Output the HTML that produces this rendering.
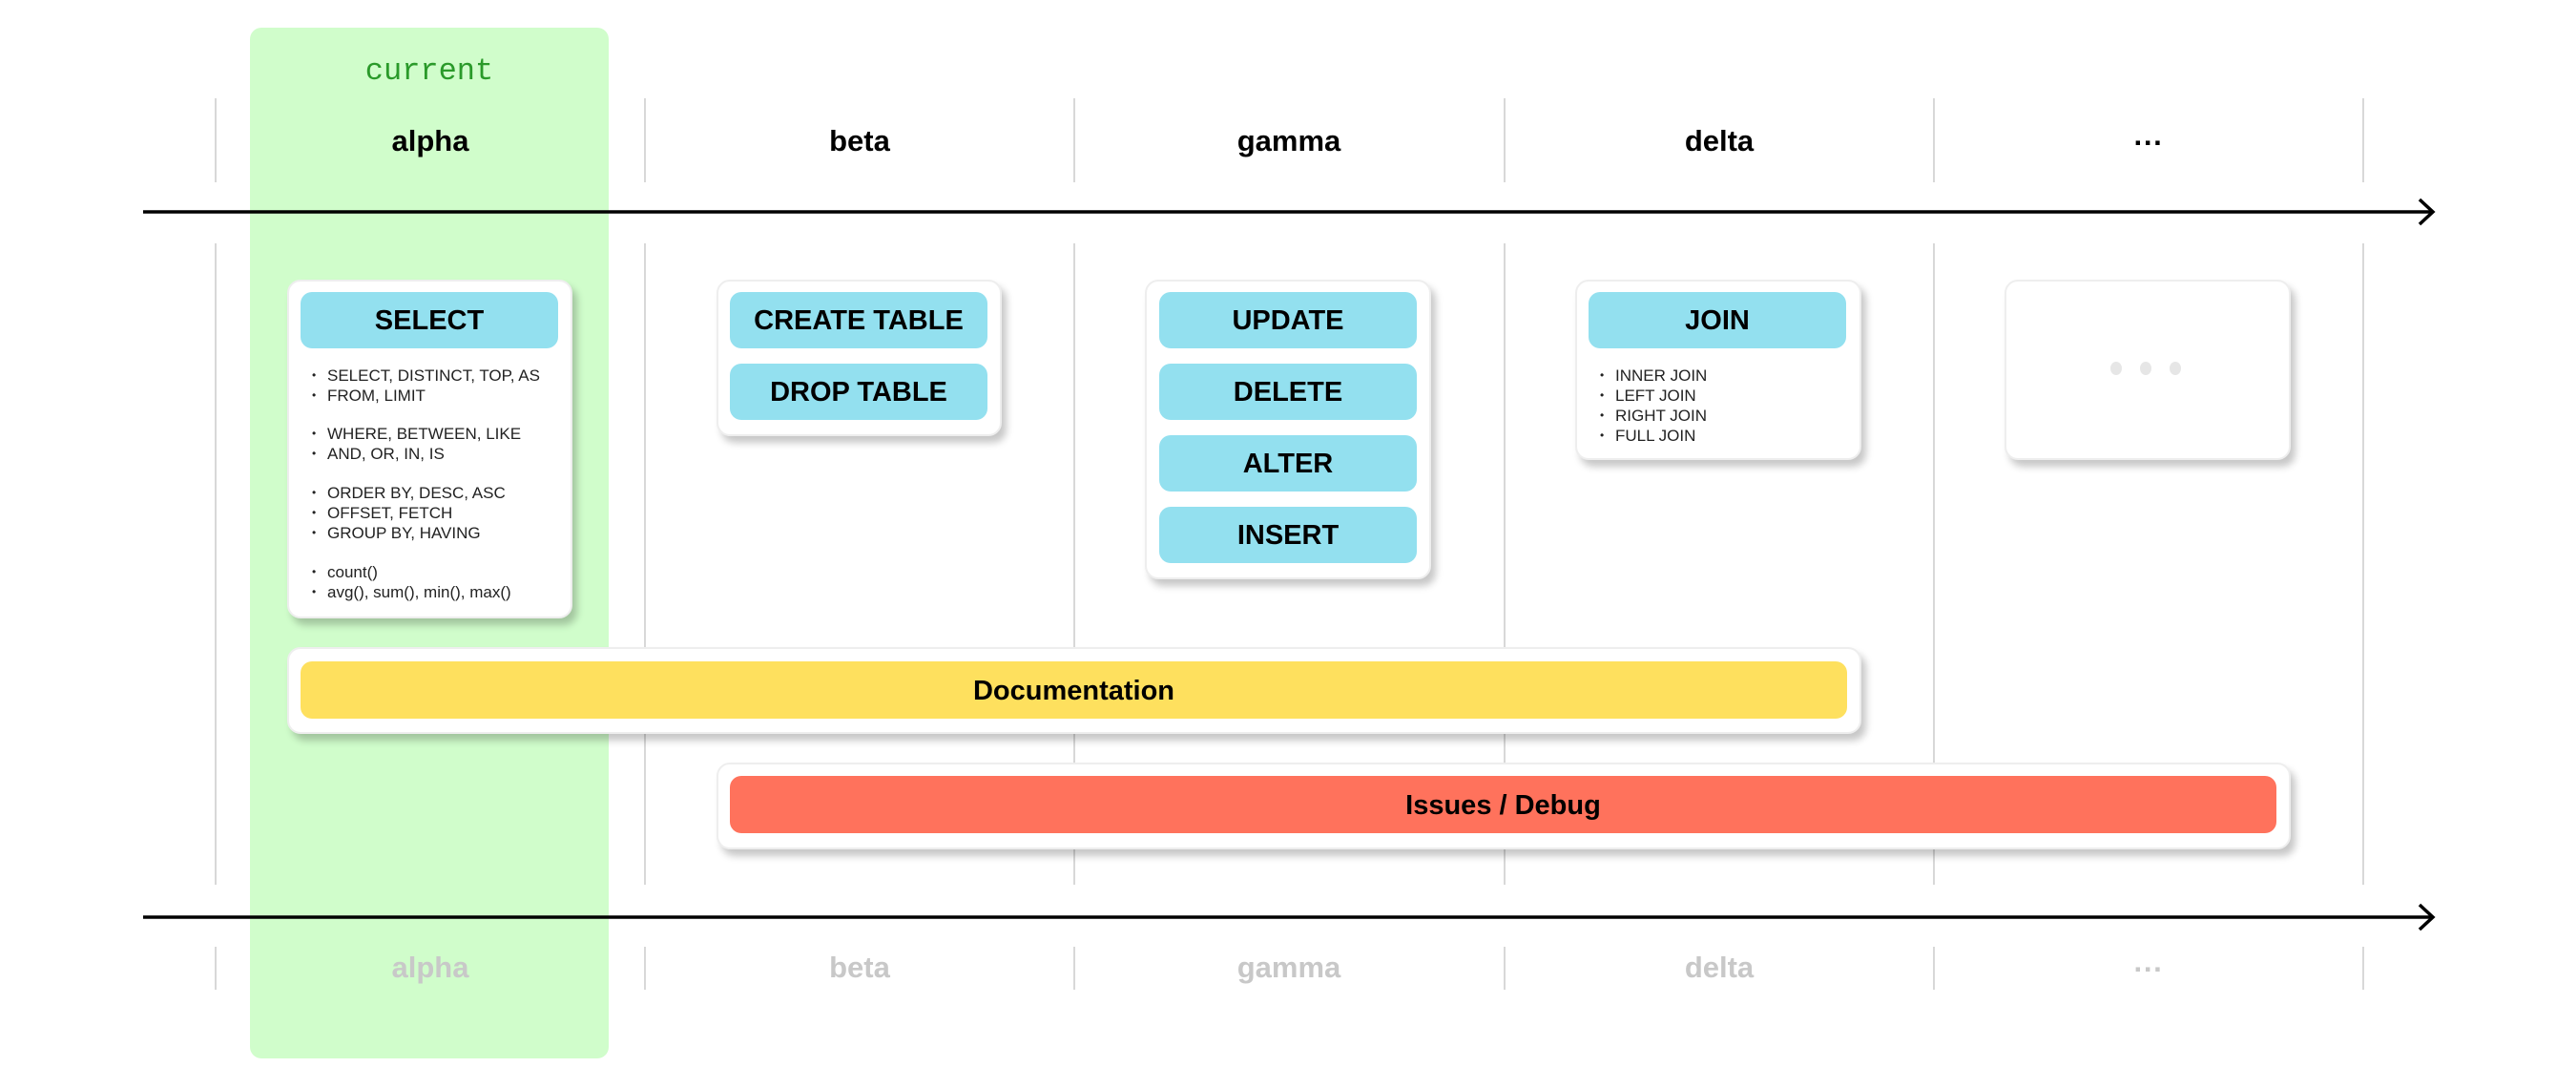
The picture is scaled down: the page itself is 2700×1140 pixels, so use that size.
<!DOCTYPE html>
<html><head><meta charset="utf-8"><style>
body{margin:0;width:2700px;height:1140px;background:#fff;position:relative;overflow:hidden;font-family:"Liberation Sans",sans-serif}
div{position:absolute;box-sizing:border-box}
.vl{width:2px;background:#d8d8d8}
.h{font-weight:bold;font-size:31px;text-align:center;width:450px;line-height:40px}
.f{color:#c8c8c8}
.card{background:#fff;border:2px solid #eee;border-radius:14px;box-shadow:5px 7px 8px rgba(0,0,0,0.22)}
.pill{background:#93e0ef;border-radius:12px;height:59px;line-height:61px;text-align:center;font-weight:bold;font-size:29px;color:#000}
.b{font-size:17px;line-height:21px;color:#222;white-space:nowrap}
.b:before{content:"•";position:absolute;left:-16px;font-size:12px}
.dot{width:12px;height:14px;border-radius:50%;background:#e6e6e6}
</style></head><body>
<div style="left:262px;top:29px;width:376px;height:1080px;background:#d0fdcb;border-radius:12px"></div>
<div style="left:262px;top:56px;width:376px;text-align:center;font-family:'Liberation Mono',monospace;font-size:32px;color:#2a9a2a">current</div>

<div class="vl" style="left:225px;top:103px;height:88px"></div><div class="vl" style="left:225px;top:255px;height:672px"></div><div class="vl" style="left:225px;top:992px;height:45px"></div>
<div class="vl" style="left:675px;top:103px;height:88px"></div><div class="vl" style="left:675px;top:255px;height:672px"></div><div class="vl" style="left:675px;top:992px;height:45px"></div>
<div class="vl" style="left:1125px;top:103px;height:88px"></div><div class="vl" style="left:1125px;top:255px;height:672px"></div><div class="vl" style="left:1125px;top:992px;height:45px"></div>
<div class="vl" style="left:1576px;top:103px;height:88px"></div><div class="vl" style="left:1576px;top:255px;height:672px"></div><div class="vl" style="left:1576px;top:992px;height:45px"></div>
<div class="vl" style="left:2026px;top:103px;height:88px"></div><div class="vl" style="left:2026px;top:255px;height:672px"></div><div class="vl" style="left:2026px;top:992px;height:45px"></div>
<div class="vl" style="left:2476px;top:103px;height:88px"></div><div class="vl" style="left:2476px;top:255px;height:672px"></div><div class="vl" style="left:2476px;top:992px;height:45px"></div>

<div class="h" style="left:226px;top:128px">alpha</div>
<div class="h" style="left:676px;top:128px">beta</div>
<div class="h" style="left:1126px;top:128px">gamma</div>
<div class="h" style="left:1577px;top:128px">delta</div>
<div class="h" style="left:2027px;top:130px">···</div>
<div class="h f" style="left:226px;top:994px">alpha</div>
<div class="h f" style="left:676px;top:994px">beta</div>
<div class="h f" style="left:1126px;top:994px">gamma</div>
<div class="h f" style="left:1577px;top:994px">delta</div>
<div class="h f" style="left:2027px;top:996px">···</div>

<svg style="position:absolute;left:0;top:0" width="2700" height="1140">
<g stroke="#000" stroke-width="3.5" fill="none">
<line x1="150" y1="222" x2="2548" y2="222"/><polyline points="2536,209 2550,222 2536,235"/>
<line x1="150" y1="961" x2="2548" y2="961"/><polyline points="2536,948 2550,961 2536,974"/>
</g></svg>

<div class="card" style="left:301px;top:293px;width:299px;height:355px"></div>
<div class="pill" style="left:315px;top:306px;width:270px">SELECT</div>
<div class="b" style="left:343px;top:383px">SELECT, DISTINCT, TOP, AS</div>
<div class="b" style="left:343px;top:404px">FROM, LIMIT</div>
<div class="b" style="left:343px;top:444px">WHERE, BETWEEN, LIKE</div>
<div class="b" style="left:343px;top:465px">AND, OR, IN, IS</div>
<div class="b" style="left:343px;top:506px">ORDER BY, DESC, ASC</div>
<div class="b" style="left:343px;top:527px">OFFSET, FETCH</div>
<div class="b" style="left:343px;top:548px">GROUP BY, HAVING</div>
<div class="b" style="left:343px;top:589px">count()</div>
<div class="b" style="left:343px;top:610px">avg(), sum(), min(), max()</div>

<div class="card" style="left:751px;top:293px;width:299px;height:164px"></div>
<div class="pill" style="left:765px;top:306px;width:270px">CREATE TABLE</div>
<div class="pill" style="left:765px;top:381px;width:270px">DROP TABLE</div>

<div class="card" style="left:1200px;top:293px;width:300px;height:314px"></div>
<div class="pill" style="left:1215px;top:306px;width:270px">UPDATE</div>
<div class="pill" style="left:1215px;top:381px;width:270px">DELETE</div>
<div class="pill" style="left:1215px;top:456px;width:270px">ALTER</div>
<div class="pill" style="left:1215px;top:531px;width:270px">INSERT</div>

<div class="card" style="left:1651px;top:293px;width:300px;height:189px"></div>
<div class="pill" style="left:1665px;top:306px;width:270px">JOIN</div>
<div class="b" style="left:1693px;top:383px">INNER JOIN</div>
<div class="b" style="left:1693px;top:404px">LEFT JOIN</div>
<div class="b" style="left:1693px;top:425px">RIGHT JOIN</div>
<div class="b" style="left:1693px;top:446px">FULL JOIN</div>

<div class="card" style="left:2101px;top:293px;width:300px;height:189px"></div>
<div class="dot" style="left:2212px;top:379px"></div>
<div class="dot" style="left:2243px;top:379px"></div>
<div class="dot" style="left:2274px;top:379px"></div>

<div class="card" style="left:301px;top:678px;width:1650px;height:91px"></div>
<div class="pill" style="left:315px;top:693px;width:1621px;height:60px;line-height:62px;background:#fee05e">Documentation</div>

<div class="card" style="left:751px;top:799px;width:1650px;height:91px"></div>
<div class="pill" style="left:765px;top:813px;width:1621px;height:60px;line-height:62px;background:#ff725c">Issues / Debug</div>
</body></html>
